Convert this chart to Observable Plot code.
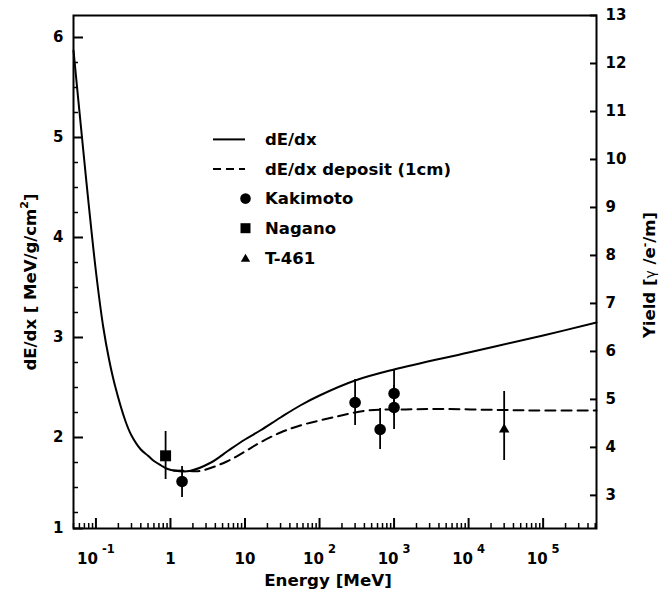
<!DOCTYPE html>
<html>
<head>
<meta charset="utf-8">
<script src="https://cdn.jsdelivr.net/npm/d3@7"></script>
<script src="https://cdn.jsdelivr.net/npm/@observablehq/plot@0.6"></script>
<style>
  html, body { margin: 0; padding: 0; background: #fff; }
  #chart { position: relative; width: 672px; height: 600px; }
</style>
</head>
<body>
<div id="chart"></div>
<script>
// Stopping power dE/dx [MeV/g/cm^2] versus kinetic energy [MeV]
const energyTotal = [0.05, 0.065, 0.08, 0.1, 0.125, 0.15, 0.18, 0.25, 0.3, 0.4, 0.5, 0.6, 0.75, 0.9, 1.1, 1.8, 3.5, 6, 10, 16, 30, 55, 100, 300, 1000, 1e4, 1e5, 5.2e5];
const dedxTotal   = [5.87, 5.0, 4.33, 3.66, 3.11, 2.78, 2.52, 2.16, 2.02, 1.88, 1.818, 1.765, 1.72, 1.687, 1.67, 1.665, 1.75, 1.87, 1.98, 2.07, 2.2, 2.32, 2.42, 2.57, 2.68, 2.85, 3.02, 3.15];

// Energy actually deposited in 1 cm
const energyDeposit = [1.1, 1.8, 2.5, 5.7, 10, 16, 30, 55, 150, 430, 1200, 4000, 27000, 1e5, 5.2e5];
const dedxDeposit   = [1.67, 1.665, 1.665, 1.76, 1.86, 1.95, 2.05, 2.12, 2.2, 2.27, 2.28, 2.285, 2.275, 2.27, 2.27];

// Measurements with their error ranges
const kakimotoEnergy = [1.43, 300, 650, 1000, 1000];
const kakimotoValue  = [1.56, 2.35, 2.08, 2.44, 2.30];
const kakimotoLow    = [1.40, 2.12, 1.88, 2.22, 2.08];
const kakimotoHigh   = [1.71, 2.58, 2.29, 2.67, 2.52];

const naganoEnergy = [0.86];
const naganoValue  = [1.817];
const naganoLow    = [1.58];
const naganoHigh   = [2.06];

const t461Energy = [3e4];
const t461Value  = [2.08];
const t461Low    = [1.77];
const t461High   = [2.46];

// Axis ranges and ticks
const energyDomain = [0.05, 5.2e5];
const dedxDomain   = [1.09, 6.22];
const yieldDomain  = [2.31, 13];
const energyMajor  = [0.1, 1, 10, 100, 1e3, 1e4, 1e5];
const energyLabels = ["10^-1", "1", "10", "10^2", "10^3", "10^4", "10^5"];
const dedxMajor    = [2, 3, 4, 5, 6];
const dedxBottomLabel = "1";
const yieldTicks   = [3, 4, 5, 6, 7, 8, 9, 10, 11, 12, 13];

const legendLabels = ["dE/dx", "dE/dx deposit (1cm)", "Kakimoto", "Nagano", "T-461"];
const legendKinds  = ["solid", "dashed", "circle", "square", "triangle"];

// Build tables for the marks
const rows = (xs, ys) => xs.map((x, i) => ({energy: x, dedx: ys[i]}));
const pts = (xs, ys, lo, hi) => xs.map((x, i) => ({energy: x, dedx: ys[i], low: lo[i], high: hi[i]}));
const totalRows = rows(energyTotal, dedxTotal);
const depositRows = rows(energyDeposit, dedxDeposit);
const kakimoto = pts(kakimotoEnergy, kakimotoValue, kakimotoLow, kakimotoHigh);
const nagano = pts(naganoEnergy, naganoValue, naganoLow, naganoHigh);
const t461 = pts(t461Energy, t461Value, t461Low, t461High);

// Minor ticks
const energyMinor = [];
for (let n = -2; n <= 5; n++) for (let m = 2; m <= 9; m++) {
  const v = m * Math.pow(10, n);
  if (v >= energyDomain[0] && v <= energyDomain[1]) energyMinor.push(v);
}
const dedxMinor = d3.range(1.25, 6.2, 0.25).filter(v => Math.abs(v - Math.round(v)) > 1e-6);

// Right-hand yield axis shares the vertical scale through a linear map
const k = (dedxDomain[1] - dedxDomain[0]) / (yieldDomain[1] - yieldDomain[0]);
const toDedx = Y => dedxDomain[0] + (Y - yieldDomain[0]) * k;
const toYield = v => yieldDomain[0] + (v - dedxDomain[0]) / k;

const labelOf = new Map(energyMajor.map((v, i) => [v, energyLabels[i]]));

const font = "'DejaVu Sans', 'Liberation Sans', sans-serif";

const plot = Plot.plot({
  width: 672,
  height: 600,
  marginLeft: 73,
  marginRight: 76,
  marginTop: 15,
  marginBottom: 72,
  style: {fontFamily: font, fontWeight: "bold", fontSize: "15px", color: "#000", background: "#fff", overflow: "visible"},
  x: {type: "log", domain: energyDomain, label: null},
  y: {domain: dedxDomain, label: null},
  marks: [
    Plot.frame({strokeWidth: 2}),
    Plot.axisX(energyMinor, {tickSize: -5, fill: "none", strokeWidth: 1.5, label: null}),
    Plot.axisX(energyMajor, {tickSize: -10, tickPadding: 35, strokeWidth: 2, label: null,
      tickFormat: d => labelOf.get(d)}),
    Plot.axisY(dedxMinor, {tickSize: -5, fill: "none", strokeWidth: 1.5, label: null}),
    Plot.axisY([dedxDomain[0], ...dedxMajor], {tickSize: -10, tickPadding: 20, strokeWidth: 2, label: null,
      tickFormat: d => d === dedxDomain[0] ? dedxBottomLabel : String(d)}),
    Plot.axisY(yieldTicks.map(toDedx), {anchor: "right", tickSize: -7, tickPadding: 16, strokeWidth: 2, label: null,
      tickFormat: d => String(Math.round(toYield(d)))}),
    Plot.line(totalRows, {x: "energy", y: "dedx", curve: "catmull-rom", stroke: "#000", strokeWidth: 2}),
    Plot.line(depositRows, {x: "energy", y: "dedx", curve: "catmull-rom", stroke: "#000", strokeWidth: 2, strokeDasharray: "10,6"}),
    Plot.ruleX([...kakimoto, ...nagano, ...t461], {x: "energy", y1: "low", y2: "high", stroke: "#000", strokeWidth: 1.8}),
    Plot.dot(kakimoto, {x: "energy", y: "dedx", symbol: "circle", r: 5.8, fill: "#000", stroke: "none"}),
    Plot.dot(nagano, {x: "energy", y: "dedx", symbol: "square", r: 6.2, fill: "#000", stroke: "none"}),
    Plot.dot(t461, {x: "energy", y: "dedx", symbol: "triangle", r: 3.9, fill: "#000", stroke: "none"})
  ]
});

document.getElementById("chart").appendChild(plot);
const svg = d3.select(plot);

// Powers of ten on the energy axis get a raised exponent
svg.selectAll('g[aria-label="x-axis tick label"] text').each(function () {
  const t = this.textContent;
  if (!t.includes("^")) return;
  const [base, exp] = t.split("^");
  const el = d3.select(this);
  el.text(null);
  el.append("tspan").text(base);
  el.append("tspan").attr("dx", 4).attr("dy", -11).style("font-size", "11.5px").text(exp);
});

// Axis titles
svg.append("text")
  .attr("x", 328).attr("y", 586)
  .attr("text-anchor", "middle")
  .style("font-size", "16.7px")
  .text("Energy [MeV]");

const yTitle = svg.append("text")
  .attr("transform", "translate(35.5,282) rotate(-90)")
  .attr("text-anchor", "middle")
  .style("font-size", "16.5px");
yTitle.append("tspan").text("dE/dx [ MeV/g/cm");
yTitle.append("tspan").attr("dy", -8).style("font-size", "11px").text("2");
yTitle.append("tspan").attr("dy", 8).text("]");

const rTitle = svg.append("text")
  .attr("transform", "translate(655,275) rotate(-90)")
  .attr("text-anchor", "middle")
  .style("font-size", "16.5px");
rTitle.append("tspan").text("Yield [");
rTitle.append("tspan").style("font-weight", "normal").style("font-size", "14px").text("γ");
rTitle.append("tspan").text(" /e");
rTitle.append("tspan").attr("dy", -7).style("font-size", "11px").text("-");
rTitle.append("tspan").attr("dy", 7).text("/m]");

// Legend
const legend = svg.append("g").attr("aria-label", "legend").attr("text-anchor", "start");
legendLabels.forEach((name, i) => {
  const y = 139.4 + i * 29.6;
  const kind = legendKinds[i];
  const g = legend.append("g");
  if (kind === "solid" || kind === "dashed") {
    g.append("line").attr("x1", 213).attr("x2", 245).attr("y1", y).attr("y2", y)
      .attr("stroke", "#000").attr("stroke-width", 2)
      .attr("stroke-dasharray", kind === "dashed" ? "8,5" : null);
  } else {
    const shape = {circle: d3.symbolCircle, square: d3.symbolSquare, triangle: d3.symbolTriangle}[kind];
    const size = {circle: 88, square: 100, triangle: 38}[kind];
    const dy = kind === "triangle" ? 1.3 : 0;
    g.append("path").attr("transform", `translate(245.5,${y + dy})`)
      .attr("d", d3.symbol(shape, size)()).attr("fill", "#000");
  }
  g.append("text").attr("x", 265).attr("y", y + 5.8).attr("text-anchor", "start")
    .style("font-size", "16.5px").text(name);
});
</script>
</body>
</html>
